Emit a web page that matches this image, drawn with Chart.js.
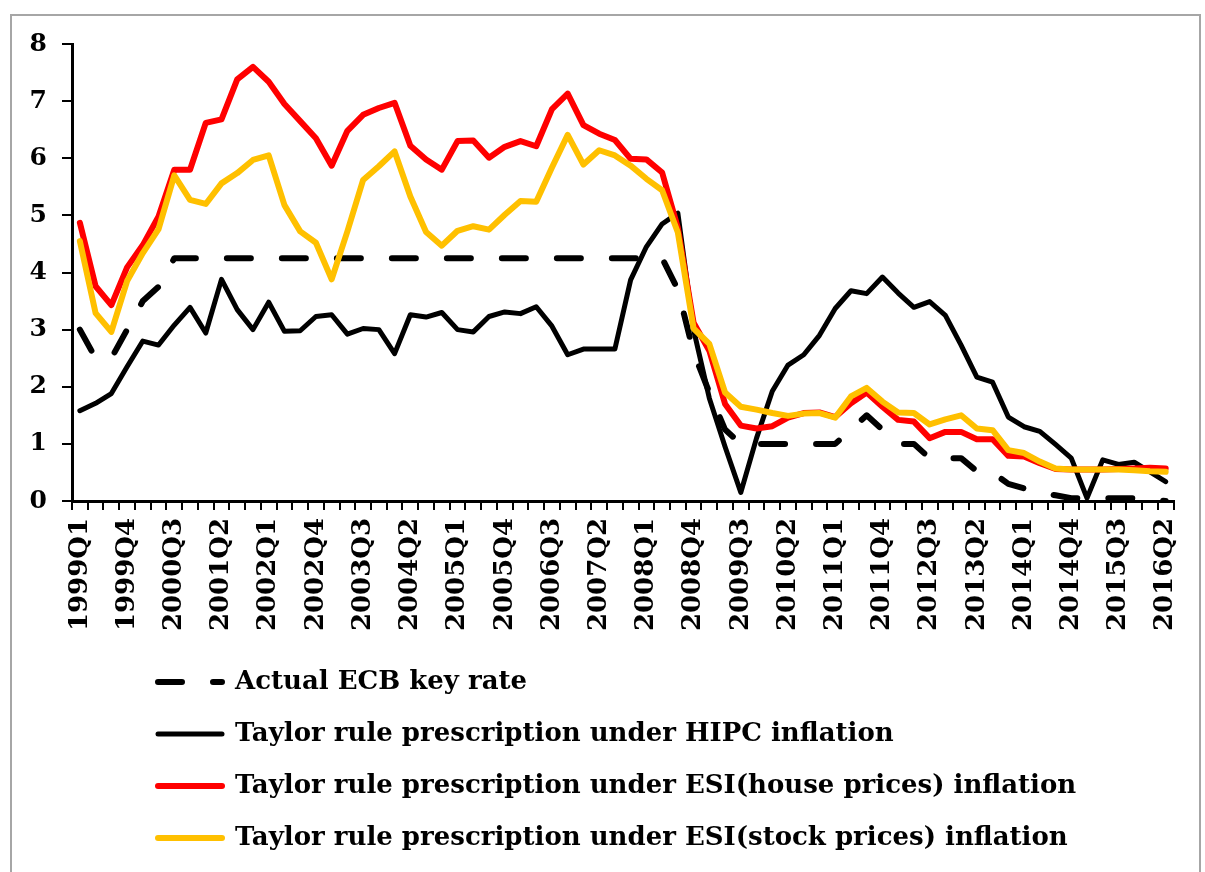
<!DOCTYPE html>
<html>
<head>
<meta charset="utf-8">
<title>Taylor rule prescriptions and the ECB key rate</title>
<script src="https://cdn.jsdelivr.net/npm/chart.js@4.4.1/dist/chart.umd.min.js"></script>
<style>
  html, body { margin: 0; padding: 0; background: #fff; }
  #wrap { position: relative; width: 1205px; height: 872px; overflow: hidden; }
  #frame { position: absolute; left: 10px; top: 14px; width: 1191px; height: 900px;
           border: 2px solid #a6a6a6; box-sizing: border-box; pointer-events: none; }
</style>
</head>
<body>
<div id="wrap">
  <canvas id="myChart" width="1205" height="872"></canvas>
  <div id="frame"></div>
</div>
<script>
// quarters on the x axis
var quarters = [
  '1999Q1','1999Q2','1999Q3','1999Q4','2000Q1','2000Q2','2000Q3','2000Q4',
  '2001Q1','2001Q2','2001Q3','2001Q4','2002Q1','2002Q2','2002Q3','2002Q4',
  '2003Q1','2003Q2','2003Q3','2003Q4','2004Q1','2004Q2','2004Q3','2004Q4',
  '2005Q1','2005Q2','2005Q3','2005Q4','2006Q1','2006Q2','2006Q3','2006Q4',
  '2007Q1','2007Q2','2007Q3','2007Q4','2008Q1','2008Q2','2008Q3','2008Q4',
  '2009Q1','2009Q2','2009Q3','2009Q4','2010Q1','2010Q2','2010Q3','2010Q4',
  '2011Q1','2011Q2','2011Q3','2011Q4','2012Q1','2012Q2','2012Q3','2012Q4',
  '2013Q1','2013Q2','2013Q3','2013Q4','2014Q1','2014Q2','2014Q3','2014Q4',
  '2015Q1','2015Q2','2015Q3','2015Q4','2016Q1','2016Q2'
];

// only these quarters get a label
var tickLabels = [
  '1999Q1','1999Q4','2000Q3','2001Q2','2002Q1','2002Q4','2003Q3','2004Q2',
  '2005Q1','2005Q4','2006Q3','2007Q2','2008Q1','2008Q4','2009Q3','2010Q2',
  '2011Q1','2011Q4','2012Q3','2013Q2','2014Q1','2014Q4','2015Q3','2016Q2'
];

var yTicks = [0, 1, 2, 3, 4, 5, 6, 7, 8];

var ecbRate = [
  3.00, 2.50, 2.50, 3.00, 3.50, 3.75, 4.25, 4.25, 4.25, 4.25,
  4.25, 4.25, 4.25, 4.25, 4.25, 4.25, 4.25, 4.25, 4.25, 4.25,
  4.25, 4.25, 4.25, 4.25, 4.25, 4.25, 4.25, 4.25, 4.25, 4.25,
  4.25, 4.25, 4.25, 4.25, 4.25, 4.25, 4.25, 4.25, 3.70, 2.60,
  1.90, 1.25, 1.00, 1.00, 1.00, 1.00, 1.00, 1.00, 1.00, 1.25,
  1.50, 1.25, 1.00, 1.00, 0.75, 0.75, 0.75, 0.52, 0.50, 0.30,
  0.22, 0.15, 0.10, 0.05, 0.05, 0.05, 0.05, 0.05, 0.02, 0.00
];

var hipcRule = [
  1.58, 1.71, 1.88, 2.35, 2.80, 2.73, 3.08, 3.39, 2.94, 3.88,
  3.35, 3.00, 3.48, 2.97, 2.98, 3.23, 3.26, 2.92, 3.02, 3.00,
  2.58, 3.26, 3.22, 3.30, 3.00, 2.96, 3.23, 3.31, 3.28, 3.40,
  3.06, 2.56, 2.66, 2.66, 2.66, 3.87, 4.45, 4.85, 5.04, 3.00,
  1.80, 0.95, 0.15, 1.10, 1.92, 2.38, 2.56, 2.90, 3.37, 3.68,
  3.63, 3.92, 3.64, 3.39, 3.49, 3.25, 2.73, 2.17, 2.08, 1.47,
  1.30, 1.22, 0.99, 0.75, 0.05, 0.72, 0.64, 0.68, 0.51, 0.34
];

var housePriceRule = [
  4.87, 3.76, 3.43, 4.09, 4.48, 4.98, 5.80, 5.80, 6.62, 6.68,
  7.38, 7.60, 7.34, 6.95, 6.65, 6.35, 5.87, 6.48, 6.76, 6.88,
  6.97, 6.22, 5.98, 5.80, 6.30, 6.31, 6.01, 6.20, 6.30, 6.21,
  6.86, 7.13, 6.58, 6.43, 6.32, 5.99, 5.98, 5.75, 4.78, 3.12,
  2.63, 1.70, 1.32, 1.27, 1.31, 1.46, 1.54, 1.55, 1.47, 1.71,
  1.90, 1.65, 1.42, 1.39, 1.10, 1.21, 1.21, 1.08, 1.08, 0.79,
  0.78, 0.66, 0.56, 0.55, 0.55, 0.55, 0.56, 0.57, 0.58, 0.57
];

var stockPriceRule = [
  4.55, 3.29, 2.96, 3.85, 4.34, 4.76, 5.70, 5.27, 5.20, 5.56,
  5.74, 5.97, 6.05, 5.18, 4.72, 4.52, 3.88, 4.72, 5.62, 5.86,
  6.12, 5.33, 4.71, 4.47, 4.73, 4.81, 4.75, 5.01, 5.25, 5.24,
  5.84, 6.41, 5.89, 6.14, 6.05, 5.87, 5.64, 5.44, 4.70, 3.02,
  2.75, 1.90, 1.65, 1.60, 1.54, 1.49, 1.53, 1.54, 1.46, 1.83,
  1.98, 1.74, 1.55, 1.54, 1.34, 1.43, 1.50, 1.27, 1.24, 0.89,
  0.84, 0.69, 0.57, 0.55, 0.55, 0.55, 0.55, 0.54, 0.52, 0.51
];

Chart.defaults.font.family = "'DejaVu Serif', serif";
Chart.defaults.font.weight = 'bold';
Chart.defaults.color = '#000';

// legend sits indented under the plot, one entry per row
var legendIndent = {
  id: 'legendIndent',
  afterLayout: function(chart) {
    chart.legend.left += 60;
  }
};

var ctx = document.getElementById('myChart').getContext('2d');
var myChart = new Chart(ctx, {
  type: 'line',
  data: {
    labels: quarters,
    datasets: [{
      label: 'Actual ECB key rate',
      data: ecbRate,
      borderColor: '#000000',
      borderWidth: 6,
      borderDash: [24, 31],
      order: 3
    }, {
      label: 'Taylor rule prescription under HIPC inflation',
      data: hipcRule,
      borderColor: '#000000',
      borderWidth: 5,
      order: 2
    }, {
      label: 'Taylor rule prescription under ESI(house prices) inflation',
      data: housePriceRule,
      borderColor: '#ff0000',
      borderWidth: 6,
      order: 1
    }, {
      label: 'Taylor rule prescription under ESI(stock prices) inflation',
      data: stockPriceRule,
      borderColor: '#ffc000',
      borderWidth: 6,
      order: 0
    }]
  },
  options: {
    responsive: false,
    animation: false,
    devicePixelRatio: 1,
    layout: { padding: { left: 0, right: 17, top: 44, bottom: 11 } },
    elements: {
      point: { radius: 0, hoverRadius: 0 },
      line: { tension: 0, fill: false, borderCapStyle: 'round', borderJoinStyle: 'round' }
    },
    plugins: {
      tooltip: { enabled: false },
      legend: {
        position: 'bottom',
        align: 'start',
        fullSize: false,
        labels: {
          usePointStyle: true,
          pointStyle: 'line',
          pointStyleWidth: 64,
          padding: 26,
          color: '#000',
          font: { size: 26, weight: 'bold' },
          sort: function(a, b) { return a.datasetIndex - b.datasetIndex; },
          generateLabels: function(chart) {
            var items = Chart.defaults.plugins.legend.labels.generateLabels(chart);
            items.forEach(function(it) {
              var ds = chart.data.datasets[it.datasetIndex];
              it.lineDash = ds.borderDash || [];
              it.lineDashOffset = 0;
              it.lineWidth = ds.borderWidth;
              it.strokeStyle = ds.borderColor;
              it.lineCap = 'round';
            });
            return items;
          }
        }
      }
    },
    scales: {
      x: {
        offset: true,
        grid: { offset: true, drawOnChartArea: false, drawTicks: true, tickLength: 9, color: '#000', lineWidth: 2 },
        border: { display: true, color: '#000', width: 3 },
        ticks: {
          autoSkip: false,
          maxRotation: 90,
          minRotation: 90,
          padding: 8,
          color: '#000',
          font: { size: 26, weight: 'bold' },
          callback: function(value, index) {
            var q = quarters[index];
            return tickLabels.indexOf(q) >= 0 ? q : '';
          }
        },
        afterFit: function(scale) { scale.height = 142; }
      },
      y: {
        min: 0,
        max: 8,
        afterBuildTicks: function(scale) {
          scale.ticks = yTicks.map(function(v) { return { value: v }; });
        },
        grid: { drawOnChartArea: false, drawTicks: true, tickLength: 10, color: '#000', lineWidth: 2 },
        border: { display: true, color: '#000', width: 3 },
        ticks: { padding: 15, color: '#000', font: { size: 25, weight: 'bold' } },
        afterFit: function(scale) { scale.width = 72; }
      }
    }
  },
  plugins: [legendIndent]
});
</script>
</body>
</html>
